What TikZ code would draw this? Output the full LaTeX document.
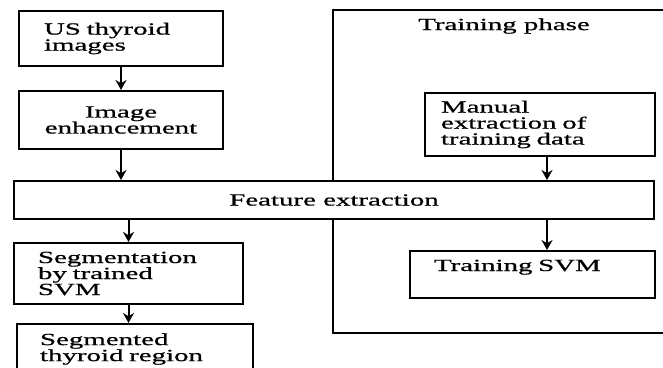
\documentclass[tikz,border=0pt]{standalone}
\usepackage{fontspec}
\setmainfont[FakeStretch=1.7,FakeBold=0.8]{Liberation Serif}
\usepackage{tikz}
\usetikzlibrary{positioning,arrows.meta}
\tikzset{%
  every block/.style={
    draw,
    line width=2pt,
    fill=white,
    anchor=north west,
    font=\fontsize{17}{16}\selectfont,
    inner ysep=4pt
  },
  block left/.style={
    align=left
  },
}

\begin{document}
\begin{tikzpicture}[x=1pt, y=-1pt, >={Stealth[length=10pt,width=11pt]}, line width=2pt]

    \useasboundingbox (0,0) rectangle (663,367);

    % training phase frame
    \draw (663,10) -- (333,10) -- (333,333) -- (663,333);
    \node [font=\fontsize{17}{16}\selectfont] (phase) at (504,26) {Training phase};

    \node [every block, block left, text width=154pt, inner xsep=25pt, minimum height=55pt]
        (usimg) at (18,10) {US thyroid\\images};
    \node [every block, align=center, text width=170pt, inner xsep=17pt, minimum height=58pt]
        (enh) at (18,90) {Image\\enhancement};
    \node [every block, minimum width=640pt, minimum height=38pt]
        (feat) at (13,180) {Feature extraction};
    \node [every block, block left, text width=181pt, inner xsep=24pt, minimum height=61pt]
        (seg) at (13,242) {Segmentation\\by trained\\SVM};
    \node [every block, block left, text width=190pt, inner xsep=23pt, minimum height=50pt]
        (segd) at (16,323) {Segmented\\thyroid region};
    \node [every block, block left, text width=198pt, inner xsep=16pt, minimum height=63pt]
        (manual) at (424,92) {Manual\\extraction of\\training data};
    \node [every block, block left, text width=197pt, inner xsep=24pt, inner ysep=6pt,
        text height=14pt, text depth=21pt]
        (svm) at (409,250) {Training SVM};

    \coordinate (tx) at (547,0);

    \draw [->] (usimg) -- (enh);
    \draw [->] (enh) -- (enh.south |- feat.north);
    \draw [->] (seg.north |- feat.south) -- (seg);
    \draw [->] (seg) -- (seg.south |- segd.north);
    \draw [->] (manual.south -| tx) -- (feat.north -| tx);
    \draw [->] (feat.south -| tx) -- (svm.north -| tx);

\end{tikzpicture}
\end{document}
